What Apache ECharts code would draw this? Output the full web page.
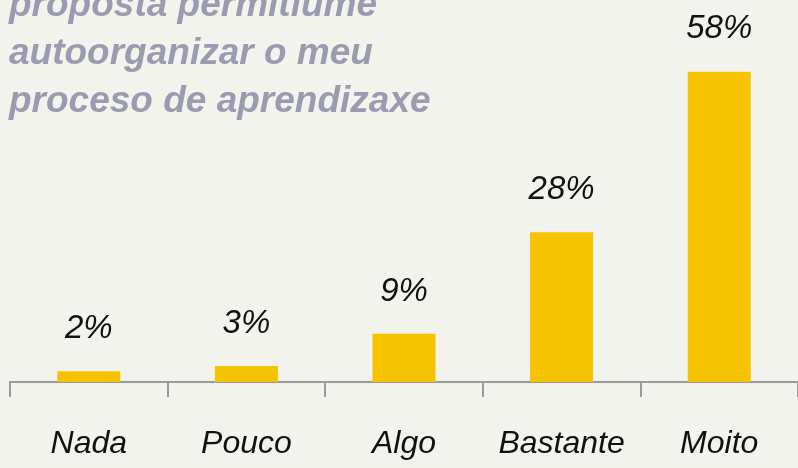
<!DOCTYPE html>
<html>
<head>
<meta charset="utf-8">
<script src="https://cdn.jsdelivr.net/npm/echarts@6/dist/echarts.min.js"></script>
<style>
  html, body { margin: 0; padding: 0; background: #f3f3ee; }
  #chart { width: 798px; height: 468px; }
</style>
</head>
<body>
<div id="chart"></div>
<script>
// Survey answers and share of respondents (%)
const categories = ['Nada', 'Pouco', 'Algo', 'Bastante', 'Moito'];
const percentages = [2, 3, 9, 28, 58];
const titleLines = ['proposta permitiume', 'autoorganizar o meu', 'proceso de aprendizaxe'];

const handFont = '"Liberation Sans", sans-serif';

const chart = echarts.init(document.getElementById('chart'));
chart.setOption({
  backgroundColor: '#f3f3ee',
  animation: false,
  title: {
    text: titleLines.join('\n'),
    left: 4,
    top: -23,
    textStyle: {
      color: '#9b9bb0',
      fontFamily: '"Liberation Sans", sans-serif',
      fontStyle: 'italic',
      fontWeight: 'bold',
      fontSize: 37,
      lineHeight: 48
    }
  },
  grid: { left: 10, width: 792, top: 61, bottom: 86, containLabel: false },
  xAxis: {
    type: 'category',
    data: categories,
    axisLine: { lineStyle: { color: '#9a9a9a', width: 2 } },
    axisTick: { show: true, interval: 0, length: 15, lineStyle: { color: '#9a9a9a', width: 2 } },
    axisLabel: {
      interval: 0,
      color: '#111',
      fontFamily: handFont,
      fontStyle: 'italic',
      fontSize: 32,
      margin: 46
    }
  },
  yAxis: {
    type: 'value',
    min: 0,
    max: 60,
    show: false,
    splitLine: { show: false }
  },
  series: [{
    type: 'bar',
    data: percentages,
    barWidth: 63,
    itemStyle: { color: '#f5c300' },
    label: {
      show: true,
      position: 'top',
      distance: 26,
      formatter: p => p.value + '%',
      color: '#111',
      fontFamily: handFont,
      fontStyle: 'italic',
      fontSize: 33
    }
  }]
});
</script>
</body>
</html>
